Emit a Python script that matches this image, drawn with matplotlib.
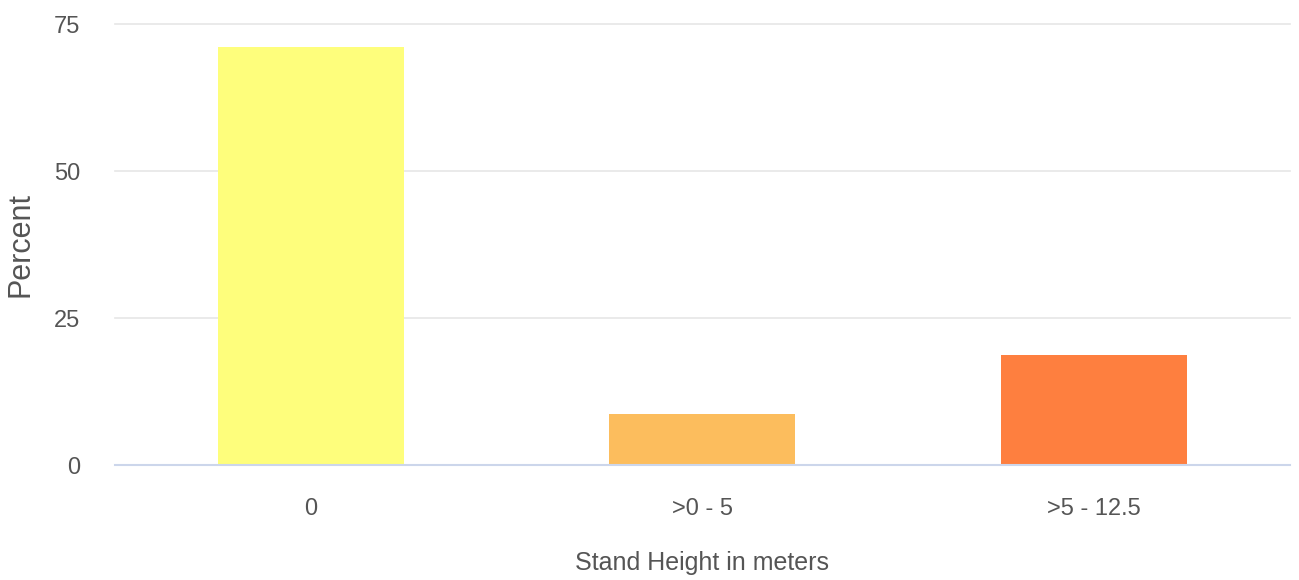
import matplotlib.pyplot as plt

categories = ["0", ">0 - 5", ">5 - 12.5"]
percent = [71.1, 8.7, 18.7]
bar_colors = ["#fefe7c", "#fcbd5d", "#fe7f3f"]
y_ticks = [0, 25, 50, 75]

font = ["Liberation Sans", "DejaVu Sans"]
text_color = "#555555"

fig = plt.figure(figsize=(12.99, 5.8), dpi=100)
ax = fig.add_axes([0.0885, 0.198, 0.9045, 0.7606])

ax.bar(range(len(categories)), percent, width=0.475, color=bar_colors, zorder=3)

ax.set_xlim(-0.5, len(categories) - 0.5)
ax.set_ylim(0, 75)
ax.set_yticks(y_ticks)
ax.set_xticks(range(len(categories)))
ax.set_xticklabels(categories, family=font, fontsize=17, color=text_color)
ax.set_yticklabels([str(t) for t in y_ticks], family=font, fontsize=17, color=text_color)
ax.tick_params(length=0)
ax.tick_params(axis="y", pad=25)
ax.tick_params(axis="x", pad=24)

ax.grid(axis="y", color="#e6e6e6", linewidth=1.2, zorder=0, clip_on=False)
for side in ["top", "right", "left"]:
    ax.spines[side].set_visible(False)
ax.spines["bottom"].set_color("#ccd6eb")
ax.spines["bottom"].set_linewidth(1.5)
ax.spines["bottom"].set_zorder(4)

ax.set_xlabel("Stand Height in meters", family=font, fontsize=18, color=text_color, labelpad=22)
ax.set_ylabel("Percent", family=font, fontsize=22, color=text_color)
ax.yaxis.label.set_va("center")
ax.yaxis.set_label_coords(-(115 - 21) / 1175, 0.5)

fig.savefig("out.png", dpi=100)
